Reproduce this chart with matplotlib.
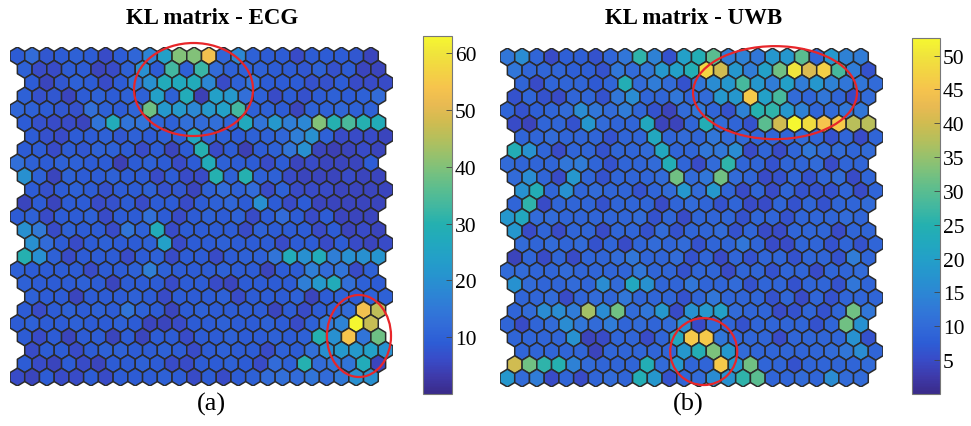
import numpy as np
import matplotlib
matplotlib.use("Agg")
import matplotlib.pyplot as plt
from matplotlib.collections import PolyCollection
from matplotlib.colors import LinearSegmentedColormap, Normalize
from matplotlib.patches import Ellipse

plt.rcParams['font.family'] = ['Liberation Serif', 'DejaVu Serif']

# KL values, 25 x 25 hex grid, top row first
kl_ecg = [
    [9, 12, 8, 9, 10, 9, 6, 9, 11, 17, 24, 40, 40, 53, 11, 18, 10, 9, 9, 6, 9, 9, 9, 8, 5],
    [10, 6, 6, 9, 9, 5, 6, 10, 20, 9, 33, 10, 32, 12, 10, 10, 10, 9, 9, 8, 10, 7, 9, 5, 5],
    [9, 5, 8, 10, 9, 6, 9, 14, 20, 28, 27, 28, 18, 6, 10, 14, 9, 9, 9, 7, 7, 9, 6, 6, 6],
    [10, 7, 8, 5, 9, 10, 9, 10, 10, 24, 10, 28, 4, 24, 22, 13, 10, 6, 9, 7, 9, 10, 9, 10, 12],
    [11, 10, 9, 8, 7, 13, 10, 9, 11, 38, 22, 22, 18, 22, 24, 33, 10, 10, 9, 5, 10, 10, 11, 10, 10],
    [9, 7, 6, 6, 5, 14, 28, 14, 14, 11, 10, 13, 12, 13, 11, 27, 14, 22, 16, 18, 40, 30, 34, 30, 28],
    [9, 7, 6, 9, 9, 10, 8, 10, 9, 10, 10, 26, 11, 10, 9, 10, 10, 11, 16, 20, 10, 6, 6, 6, 5],
    [9, 9, 6, 9, 8, 10, 10, 9, 6, 9, 5, 9, 30, 6, 9, 4, 9, 10, 14, 20, 5, 4, 5, 6, 5],
    [13, 10, 9, 10, 10, 9, 9, 4, 9, 10, 9, 6, 9, 28, 10, 9, 9, 6, 9, 5, 6, 5, 5, 5, 9],
    [20, 10, 5, 10, 9, 9, 10, 9, 9, 6, 9, 6, 6, 30, 10, 30, 10, 10, 6, 5, 5, 5, 6, 5, 5],
    [9, 7, 9, 10, 9, 7, 9, 9, 10, 7, 8, 5, 10, 12, 10, 12, 6, 10, 6, 6, 6, 5, 5, 5, 5],
    [5, 9, 5, 9, 9, 6, 7, 9, 6, 9, 9, 6, 9, 10, 11, 9, 20, 9, 6, 9, 5, 5, 5, 5, 5],
    [9, 10, 6, 9, 9, 10, 6, 9, 9, 13, 9, 6, 9, 10, 9, 10, 6, 9, 12, 9, 6, 9, 5, 5, 5],
    [20, 15, 6, 10, 9, 9, 6, 14, 10, 28, 6, 9, 9, 9, 9, 6, 10, 9, 9, 9, 6, 9, 5, 6, 5],
    [20, 12, 9, 6, 9, 10, 9, 9, 10, 24, 6, 9, 9, 10, 9, 9, 9, 6, 9, 9, 6, 9, 6, 5, 6],
    [30, 20, 10, 6, 9, 9, 9, 6, 9, 10, 6, 9, 9, 6, 9, 10, 10, 14, 28, 20, 28, 16, 20, 20, 21],
    [10, 9, 9, 9, 9, 6, 9, 9, 10, 16, 10, 9, 9, 9, 10, 9, 9, 5, 9, 9, 16, 12, 14, 6, 10],
    [10, 9, 9, 9, 10, 9, 5, 9, 9, 9, 6, 9, 9, 6, 5, 9, 9, 9, 9, 16, 22, 28, 13, 10, 9],
    [10, 9, 9, 5, 9, 9, 9, 10, 9, 6, 9, 9, 9, 10, 6, 9, 9, 9, 10, 5, 9, 10, 9, 10, 10],
    [9, 6, 9, 10, 9, 10, 9, 14, 10, 9, 5, 9, 10, 9, 9, 9, 9, 5, 9, 6, 9, 10, 12, 53, 46],
    [9, 10, 9, 9, 10, 9, 9, 10, 9, 5, 5, 6, 9, 9, 10, 9, 9, 10, 9, 6, 10, 15, 17, 63, 47],
    [9, 6, 9, 5, 9, 9, 5, 9, 5, 9, 9, 6, 9, 9, 10, 9, 9, 10, 9, 10, 30, 20, 54, 14, 38],
    [6, 9, 9, 6, 9, 10, 10, 9, 9, 10, 9, 6, 9, 10, 9, 9, 6, 10, 9, 13, 20, 22, 22, 24, 20],
    [9, 6, 5, 9, 6, 5, 9, 9, 10, 9, 6, 6, 9, 9, 10, 9, 6, 12, 10, 30, 12, 14, 14, 28, 5],
    [6, 5, 9, 6, 6, 9, 6, 9, 9, 9, 10, 9, 6, 9, 6, 9, 10, 12, 13, 12, 14, 12, 15, 20, 20],
]

kl_uwb = [
    [12, 16, 9, 5, 8, 8, 6, 9, 12, 26, 14, 6, 20, 24, 30, 13, 14, 12, 18, 18, 30, 9, 18, 14, 13],
    [12, 9, 9, 9, 8, 8, 6, 12, 10, 12, 18, 20, 24, 48, 40, 18, 13, 20, 32, 50, 41, 47, 28, 13, 6],
    [9, 5, 9, 9, 9, 7, 9, 24, 10, 13, 10, 6, 12, 16, 18, 28, 18, 13, 20, 13, 18, 14, 12, 12, 10],
    [6, 9, 6, 5, 9, 9, 6, 12, 16, 9, 9, 12, 9, 10, 18, 18, 46, 20, 28, 10, 9, 12, 9, 5, 10],
    [9, 6, 8, 9, 10, 16, 12, 10, 13, 9, 6, 4, 10, 12, 9, 6, 14, 25, 26, 18, 14, 9, 10, 12, 12],
    [5, 4, 9, 9, 6, 18, 10, 9, 9, 22, 4, 4, 9, 24, 10, 9, 6, 30, 40, 53, 49, 45, 46, 38, 38],
    [9, 9, 10, 9, 9, 9, 6, 9, 9, 22, 9, 10, 9, 12, 10, 10, 9, 9, 9, 10, 9, 6, 9, 5, 9],
    [24, 17, 9, 5, 9, 9, 6, 9, 9, 10, 22, 9, 9, 12, 12, 16, 5, 9, 5, 9, 12, 10, 10, 9, 10],
    [10, 9, 9, 9, 12, 13, 9, 6, 9, 9, 10, 24, 9, 5, 10, 26, 9, 9, 6, 9, 9, 10, 5, 9, 9],
    [10, 16, 9, 5, 18, 9, 6, 9, 9, 9, 10, 32, 10, 12, 32, 10, 9, 5, 6, 9, 6, 9, 10, 5, 9],
    [17, 24, 9, 17, 9, 10, 9, 9, 6, 9, 10, 18, 10, 18, 9, 5, 9, 5, 9, 6, 6, 6, 9, 5, 9],
    [9, 26, 5, 9, 9, 9, 6, 9, 9, 9, 5, 9, 10, 9, 6, 9, 5, 5, 9, 6, 9, 6, 9, 9, 10],
    [18, 22, 10, 10, 9, 9, 9, 9, 9, 10, 6, 9, 5, 9, 9, 9, 6, 9, 9, 6, 9, 9, 9, 10, 9],
    [18, 5, 9, 5, 9, 9, 5, 9, 9, 6, 10, 6, 9, 9, 10, 6, 9, 5, 5, 9, 9, 9, 5, 9, 9],
    [10, 9, 10, 9, 10, 6, 9, 5, 9, 10, 9, 10, 6, 9, 9, 12, 9, 5, 5, 9, 9, 6, 9, 6, 9],
    [4, 9, 5, 9, 5, 9, 9, 10, 12, 9, 9, 10, 6, 9, 5, 9, 6, 9, 9, 6, 9, 9, 6, 13, 9],
    [10, 10, 9, 9, 10, 9, 9, 9, 9, 12, 9, 9, 6, 9, 9, 5, 9, 9, 6, 9, 9, 5, 9, 9, 10],
    [17, 10, 9, 9, 10, 9, 16, 10, 22, 17, 9, 9, 12, 9, 9, 10, 6, 9, 9, 6, 9, 9, 6, 12, 9],
    [9, 9, 10, 5, 9, 10, 9, 12, 9, 9, 9, 6, 9, 12, 9, 9, 9, 6, 9, 5, 9, 6, 9, 9, 9],
    [9, 10, 16, 16, 13, 36, 16, 32, 10, 12, 18, 5, 17, 18, 20, 10, 9, 9, 5, 6, 9, 6, 9, 32, 12],
    [9, 5, 9, 10, 16, 12, 10, 13, 9, 10, 9, 10, 16, 5, 10, 9, 6, 9, 9, 9, 9, 6, 9, 32, 17],
    [9, 9, 9, 9, 17, 4, 5, 9, 9, 5, 9, 22, 46, 46, 12, 9, 9, 9, 5, 9, 9, 9, 9, 17, 6],
    [9, 9, 9, 9, 9, 4, 9, 9, 9, 9, 9, 18, 24, 33, 18, 10, 9, 9, 9, 9, 9, 10, 12, 16, 9],
    [40, 32, 26, 25, 14, 10, 9, 9, 9, 24, 10, 18, 9, 9, 46, 18, 32, 9, 9, 6, 9, 9, 9, 9, 10],
    [18, 10, 13, 5, 9, 5, 9, 10, 9, 24, 18, 6, 9, 10, 16, 17, 26, 30, 9, 9, 10, 9, 16, 10, 10],
]

titles = ["KL matrix - ECG", "KL matrix - UWB"]
labels = ["(a)", "(b)"]
clims = [(0, 63), (0, 52.6)]
ticks = [[10, 20, 30, 40, 50, 60], [5, 10, 15, 20, 25, 30, 35, 40, 45, 50]]

# parula anchors: old (R2014b) and new (R2017a) variants, averaged and washed out a bit
parula_old = np.array([
    [0.2081, 0.1663, 0.5292], [0.2081, 0.2386, 0.6771], [0.1253, 0.3242, 0.8303],
    [0.0060, 0.4086, 0.8828], [0.0499, 0.4586, 0.8641], [0.0779, 0.5040, 0.8384],
    [0.0641, 0.5570, 0.8240], [0.0265, 0.6137, 0.8135], [0.0228, 0.6535, 0.7768],
    [0.0590, 0.6838, 0.7254], [0.1453, 0.7098, 0.6646], [0.2586, 0.7317, 0.5954],
    [0.3953, 0.7459, 0.5244], [0.5300, 0.7491, 0.4661], [0.6473, 0.7456, 0.4188],
    [0.7525, 0.7384, 0.3768], [0.8507, 0.7299, 0.3360], [0.9450, 0.7261, 0.2886],
    [0.9990, 0.7653, 0.2164], [0.9788, 0.8271, 0.1633], [0.9589, 0.8949, 0.1132],
    [0.9763, 0.9831, 0.0538],
])
parula_new = np.array([
    [0.2422, 0.1504, 0.6603], [0.2647, 0.1978, 0.7952], [0.2783, 0.2559, 0.8991],
    [0.2810, 0.3228, 0.9579], [0.2699, 0.3892, 0.9906], [0.2206, 0.4603, 0.9973],
    [0.1786, 0.5289, 0.9682], [0.1540, 0.5902, 0.9218], [0.1248, 0.6459, 0.8883],
    [0.0689, 0.6948, 0.8394], [0.0067, 0.7312, 0.7660], [0.1408, 0.7584, 0.6842],
    [0.2161, 0.7843, 0.5923], [0.3406, 0.8008, 0.4789], [0.5044, 0.7993, 0.3480],
    [0.6720, 0.7793, 0.2227], [0.8203, 0.7498, 0.1535], [0.9393, 0.7288, 0.2100],
    [0.9970, 0.7659, 0.2199], [0.9786, 0.8386, 0.1766], [0.9597, 0.9135, 0.1423],
    [0.9769, 0.9839, 0.0805],
])
pts = 0.5 * (parula_old + parula_new)
lum = pts @ np.array([0.3, 0.59, 0.11])
pts = 0.85 * pts + 0.15 * lum[:, None]
parula = LinearSegmentedColormap.from_list("parula", pts)

row_shift = [0, 0.5, 1, 0.5]
hex_dx = np.array([0, 0.5, 0.5, 0, -0.5, -0.5])
hex_dy = np.array([-2 / 3, -1 / 3, 1 / 3, 2 / 3, 1 / 3, -1 / 3])

# ellipses (cx, cy, w, h) in grid units
rings = [
    [(11.96, 2.51, 8.08, 6.95), (23.19, 20.93, 4.35, 6.13)],
    [(18.17, 2.67, 11.13, 6.95), (13.33, 22.02, 4.55, 5.0)],
]

W, H = 971, 427
fig = plt.figure(figsize=(W / 100, H / 100), dpi=100)

panels = [
    dict(ax=(10, 48, 393, 387), cb=(423, 37, 452, 395), title_x=212, label_x=211),
    dict(ax=(500, 49, 883, 388), cb=(912, 39, 940, 395), title_x=694, label_x=688),
]


def px_rect(x0, y0, x1, y1):
    return [x0 / W, 1 - y1 / H, (x1 - x0) / W, (y1 - y0) / H]


for k, data in enumerate([kl_ecg, kl_uwb]):
    p = panels[k]
    ax = fig.add_axes(px_rect(*p['ax']))
    vals = np.array(data, dtype=float)
    nr, nc = vals.shape
    verts, cvals = [], []
    for i in range(nr):
        for j in range(nc):
            cx = j + row_shift[i % 4]
            verts.append(np.column_stack([cx + hex_dx, i + hex_dy]))
            cvals.append(vals[i, j])
    norm = Normalize(*clims[k])
    pc = PolyCollection(verts, array=np.array(cvals), cmap=parula, norm=norm,
                        edgecolors='#2b2b2b', linewidths=1.1)
    ax.add_collection(pc)
    ax.set_xlim(-0.5, 25.5)
    ax.set_ylim(24 + 2 / 3, -2 / 3)
    ax.axis('off')

    for (cx, cy, w, h) in rings[k]:
        ax.add_patch(Ellipse((cx, cy), w, h, fill=False, edgecolor='#e8262a',
                             linewidth=1.6, clip_on=False))

    cax = fig.add_axes(px_rect(*p['cb']))
    cb = fig.colorbar(pc, cax=cax, ticks=ticks[k])
    cb.outline.set_edgecolor('#777777')
    cb.outline.set_linewidth(0.8)
    cax.tick_params(direction='in', length=4, width=0.6, color='#444444',
                    labelsize=15.5, pad=2)

    fig.text(p['title_x'] / W, 1 - 18 / H, titles[k], ha='center', va='center',
             fontsize=16.5, fontweight='bold')
    fig.text(p['label_x'] / W, 1 - 404 / H, labels[k], ha='center', va='center',
             fontsize=19)

fig.savefig('out.png', dpi=100)
